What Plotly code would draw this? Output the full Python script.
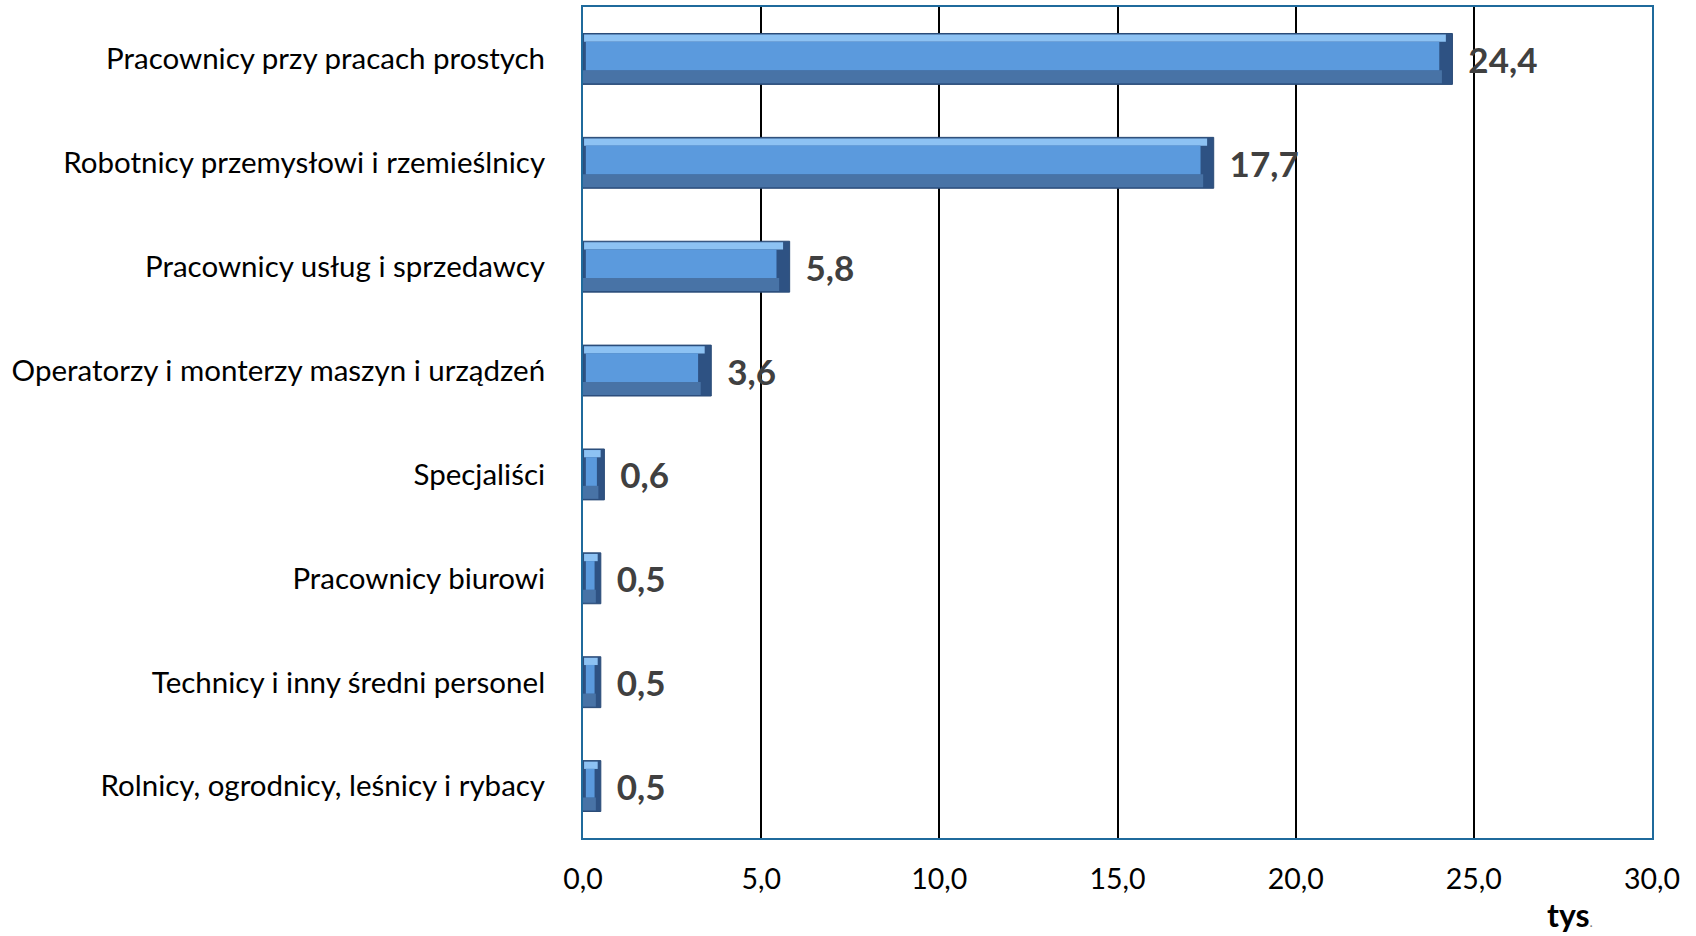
import plotly.graph_objects as go

categories = [
    "Pracownicy przy pracach prostych",
    "Robotnicy przemysłowi i rzemieślnicy",
    "Pracownicy usług i sprzedawcy",
    "Operatorzy i monterzy maszyn i urządzeń",
    "Specjaliści",
    "Pracownicy biurowi",
    "Technicy i inny średni personel",
    "Rolnicy, ogrodnicy, leśnicy i rybacy",
]
values = [24.4, 17.7, 5.8, 3.6, 0.6, 0.5, 0.5, 0.5]
x_ticks = [0, 5, 10, 15, 20, 25, 30]
unit_label = "tys"

FONT = "Lato, Carlito, 'Liberation Sans', sans-serif"
BW = 0.49


def bevel(v):
    return min(0.37, v * 0.35)


fig = go.Figure()
# dark base (right-end bevel colour) with data labels
fig.add_trace(go.Bar(
    y=categories, x=values, orientation="h", width=BW,
    marker=dict(color="#2E5283", line=dict(color="#2A4B77", width=1)),
    texttemplate="\u00a0\u2009%{x:.1f}", textposition="outside",
    textfont=dict(family=FONT, size=35, color="#404040", weight="bold"),
    cliponaxis=False, hoverinfo="skip",
))
# bottom bevel
fig.add_trace(go.Bar(
    y=categories, x=[v - bevel(v) * 0.8 for v in values], base=0.0, orientation="h",
    width=0.125, offset=0.11,
    marker=dict(color="#4873A6", line=dict(width=0)), hoverinfo="skip",
))
# top highlight
fig.add_trace(go.Bar(
    y=categories, x=[v - bevel(v) * 0.5 - 0.03 for v in values], base=0.03, orientation="h",
    width=0.07, offset=-0.235,
    marker=dict(color="#8DC2F3", line=dict(width=0)), hoverinfo="skip",
))
# main face
fig.add_trace(go.Bar(
    y=categories, x=[v - bevel(v) - 0.08 for v in values], base=0.08, orientation="h",
    width=0.276, offset=-0.166,
    marker=dict(color="#5B9ADD", line=dict(width=0)), hoverinfo="skip",
))

fig.update_layout(
    width=1696, height=936,
    margin=dict(l=583, r=44, t=5, b=98),
    barmode="overlay", showlegend=False,
    plot_bgcolor="white", paper_bgcolor="white",
    separators=", ",
    font=dict(family=FONT, size=29, color="black"),
    xaxis=dict(
        range=[0, 30], tickvals=x_ticks, tickformat=".1f",
        showgrid=True, gridcolor="black", gridwidth=1.5,
        showline=True, linecolor="#1F6A9C", linewidth=2, mirror=True,
        zeroline=False, ticks="", ticklabelstandoff=15,
        tickfont=dict(size=28.5, family=FONT),
    ),
    yaxis=dict(
        categoryorder="array", categoryarray=categories, autorange="reversed",
        showline=True, linecolor="#1F6A9C", linewidth=2, mirror=True,
        showgrid=False, ticks="", ticklabelstandoff=30,
        tickfont=dict(size=29.5, family=FONT),
    ),
    annotations=[
        dict(x=1.0, xref="paper", y=0, yref="paper", xanchor="center", yanchor="middle",
             xshift=-82, yshift=-76, showarrow=False,
             text=f"<b>{unit_label}</b><span style='font-size:14px;color:#808080'>.</span>",
             font=dict(family=FONT, size=32, color="black")),
    ],
)

fig.write_html(
    "out.html",
    config={"displayModeBar": False},
    post_script="document.body.style.margin='0';document.body.style.overflow='hidden';",
)
